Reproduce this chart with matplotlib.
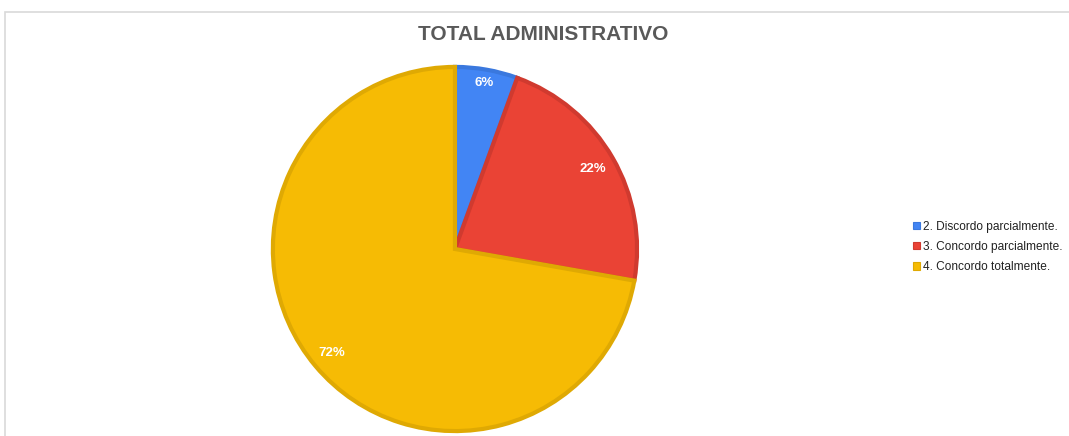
import numpy as np
import matplotlib.pyplot as plt
from matplotlib.patches import Patch, Rectangle

categorias = ["2. Discordo parcialmente.", "3. Concordo parcialmente.", "4. Concordo totalmente."]
respostas = [1, 4, 13]
rotulos = ["6%", "22%", "72%"]
cores = ["#4285F4", "#EA4335", "#F6BB04"]
bordas = ["#3A78DE", "#D03A2F", "#DFA903"]

plt.rcParams['font.family'] = ['Liberation Sans', 'DejaVu Sans']

fig = plt.figure(figsize=(10.69, 4.36), dpi=100)

# moldura cinza clara
fig.patches.append(Rectangle((5 / 1069, -0.1), 1.2, (436 - 12) / 436 + 0.1,
                             transform=fig.transFigure, fill=False,
                             edgecolor="#D9D9D9", linewidth=1.2))

ax = fig.add_axes([0.2544, 0.0092, 0.3424, 0.8394])
fatias, _ = ax.pie(respostas, colors=cores, startangle=90, counterclock=False,
                   radius=0.995, wedgeprops=dict(linewidth=3))
for f, b in zip(fatias, bordas):
    f.set_edgecolor(b)

# rótulos de porcentagem
total = sum(respostas)
acum = 0
dist = [0.92, 0.87, 0.88]
for v, txt, d in zip(respostas, rotulos, dist):
    meio = (acum + v / 2) / total
    ang = np.deg2rad(90 - 360 * meio)
    ax.text(d * np.cos(ang), d * np.sin(ang), txt, ha="center", va="center",
            color="white", fontsize=9.5, fontweight="bold")
    acum += v

ax.set_xlim(-1, 1)
ax.set_ylim(-1, 1)
ax.set_aspect("auto")

fig.text(543 / 1069, 1 - 35 / 436, "TOTAL ADMINISTRATIVO", ha="center", va="center",
         fontsize=15, fontweight="bold", color="#595959")

handles = [Patch(facecolor=c, edgecolor=b, linewidth=0.8) for c, b in zip(cores, bordas)]
fig.legend(handles, categorias, loc="upper left", bbox_to_anchor=(907 / 1069, 1 - 215 / 436),
           frameon=False, fontsize=8.6, handlelength=0.55, handleheight=0.55,
           handletextpad=0.25, labelspacing=0.68, labelcolor="#222222", borderpad=0)

fig.savefig("out.png", dpi=100)
